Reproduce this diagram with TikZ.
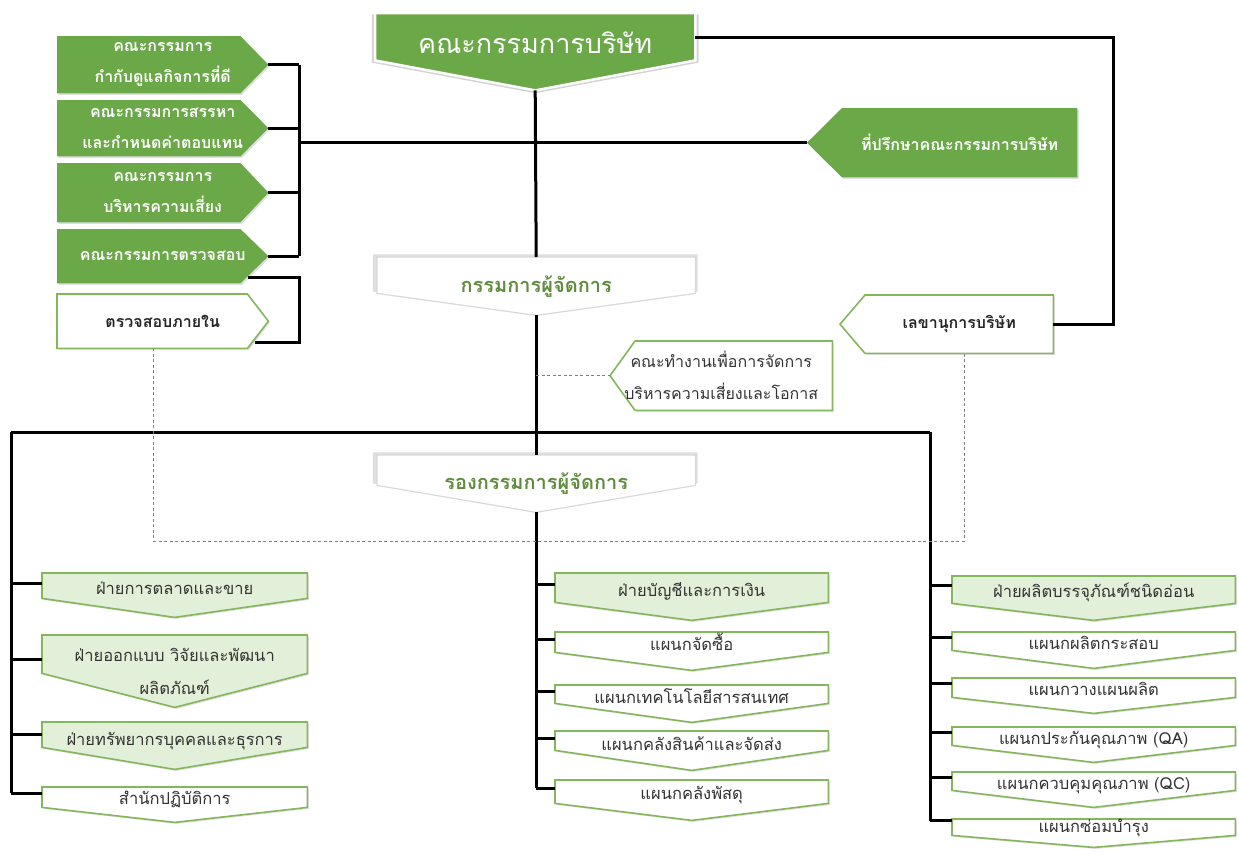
\documentclass[tikz,border=0pt]{standalone}
\usepackage{fontspec}
\setmainfont[Script=Thai]{Loma}
\usetikzlibrary{calc,backgrounds,shadows}

\definecolor{boardgreen}{RGB}{106,168,72}
\definecolor{palegreen}{RGB}{226,239,217}
\definecolor{edgegreen}{RGB}{132,182,92}
\definecolor{olivetext}{RGB}{96,140,62}

\tikzset{
  link/.style={line width=3pt},
  dotlink/.style={black!50, line width=1.3pt, dash pattern=on 3pt off 2.5pt},
  cell/.style={rectangle, inner sep=0pt, anchor=north west, align=center},
  comtext/.style={cell, text=white, font=\fontsize{16}{31}\selectfont\bfseries},
  mgrtext/.style={cell, text=olivetext, font=\fontsize{20}{24}\selectfont\bfseries},
  unittext/.style={cell, text=black!80, font=\fontsize{16.5}{33}\selectfont, text depth=13pt},
  softshadow/.style={drop shadow={opacity=0.25, shadow xshift=1.5pt, shadow yshift=-1.5pt}},
  greenshape/.style={fill=boardgreen, softshadow},
  whiteshape/.style={fill=white, draw=edgegreen, line width=1.6pt, softshadow},
  deptshape/.style={draw=edgegreen, line width=1.6pt, softshadow},
  mgrshape/.style={fill=white, draw=black!15, line width=1.2pt, drop shadow={opacity=0.25, shadow xshift=-1pt, shadow yshift=2pt, shadow scale=1.02}},
}

\begin{document}
\begin{tikzpicture}[x=1pt,y=-1pt]
  \useasboundingbox (0,0) rectangle (1239,854);

  % board, managing director, deputy
  \node[cell, text=white, font=\fontsize{27}{32}\selectfont, text height=20pt, text depth=16pt, minimum width=320, minimum height=77] (board) at (375,13) {คณะกรรมการบริษัท};
  \node[mgrtext, minimum width=318, minimum height=58] (md) at (377,257) {กรรมการผู้จัดการ};
  \node[mgrtext, minimum width=318, minimum height=57] (vp) at (377,455) {รองกรรมการผู้จัดการ};
  \begin{scope}[on background layer]
    \filldraw[fill=boardgreen, draw=white, line width=2.5pt, drop shadow={opacity=0.35, shadow xshift=0pt, shadow yshift=-2pt, shadow scale=1.02}]
      (board.north west) -- (board.north east) -- ($(board.south east)+(0,-30)$) -- (board.south) -- ($(board.south west)+(0,-30)$) -- cycle;
    \filldraw[mgrshape] (md.north west) -- (md.north east) -- ($(md.south east)+(0,-22)$) -- (md.south) -- ($(md.south west)+(0,-22)$) -- cycle;
    \filldraw[mgrshape] (vp.north west) -- (vp.north east) -- ($(vp.south east)+(0,-27)$) -- (vp.south) -- ($(vp.south west)+(0,-27)$) -- cycle;
  \end{scope}

  % committees on the left
  \foreach \nm/\yt/\yb/\txt in {gov/36/93/{คณะกรรมการ\\กำกับดูแลกิจการที่ดี},
      nom/100/156/{คณะกรรมการสรรหา\\และกำหนดค่าตอบแทน},
      risk/163/222/{คณะกรรมการ\\บริหารความเสี่ยง},
      aud/229/283/{คณะกรรมการตรวจสอบ}} {
    \node[comtext, minimum width=211, minimum height={(\yb-\yt)*1pt}] (\nm) at (57,\yt) {\txt};
    \scoped[on background layer] \fill[greenshape] (\nm.north west) -- ($(\nm.north east)+(-28,0)$) -- (\nm.east) -- ($(\nm.south east)+(-28,0)$) -- (\nm.south west) -- cycle;
  }
  \node[cell, text=black!85, font=\fontsize{16}{20}\selectfont\bfseries, minimum width=211, minimum height=54] (inaud) at (57,294) {ตรวจสอบภายใน};
  \scoped[on background layer] \filldraw[whiteshape] (inaud.north west) -- ($(inaud.north east)+(-21,0)$) -- (inaud.east) -- ($(inaud.south east)+(-21,0)$) -- (inaud.south west) -- cycle;

  % advisor, secretary, working group
  \node[comtext, minimum width=235, minimum height=69] (adv) at (842,108) {ที่ปรึกษาคณะกรรมการบริษัท};
  \node[cell, text=black!85, font=\fontsize{16}{20}\selectfont\bfseries, minimum width=188, minimum height=58] (sec) at (865,295) {เลขานุการบริษัท};
  \node[cell, text=black!80, font=\fontsize{16}{32}\selectfont, minimum width=222, minimum height=69] (wg) at (610,341) {คณะทำงานเพื่อการจัดการ\\บริหารความเสี่ยงและโอกาส};
  \begin{scope}[on background layer]
    \fill[greenshape] ($(adv.west)+(-35,0)$) -- (adv.north west) -- (adv.north east) -- (adv.south east) -- (adv.south west) -- cycle;
    \filldraw[whiteshape] ($(sec.west)+(-25,0)$) -- (sec.north west) -- (sec.north east) -- (sec.south east) -- (sec.south west) -- cycle;
    \filldraw[whiteshape] (wg.west) -- ($(wg.north west)+(25,0)$) -- (wg.north east) -- (wg.south east) -- ($(wg.south west)+(25,0)$) -- cycle;
  \end{scope}

  % trunks
  \coordinate (brk) at (299,0);
  \coordinate (rt) at (1113,0);
  \coordinate (lt) at (11,432);
  \coordinate (rb) at (930,432);

  % departments, left column
  \foreach \nm/\yt/\yb/\hgt/\dep/\clr/\txt in {mkt/573/617/12/19/palegreen/{ฝ่ายการตลาดและขาย},
      rnd/635/697/59/34/palegreen/{ฝ่ายออกแบบ วิจัยและพัฒนา\\ผลิตภัณฑ์},
      hr/722/769/12/22/palegreen/{ฝ่ายทรัพยากรบุคคลและธุรการ},
      ops/787/822/12/15/white/{สำนักปฏิบัติการ}} {
    \node[unittext, text height=\hgt pt, minimum width=265, minimum height={(\yb-\yt)*1pt}] (\nm) at (42,\yt) {\txt};
    \scoped[on background layer] \filldraw[deptshape, fill=\clr] (\nm.north west) -- (\nm.north east) -- ($(\nm.south east)+(0,-\dep)$) -- (\nm.south) -- ($(\nm.south west)+(0,-\dep)$) -- cycle;
    \draw[link] (lt |- \nm.175) -- (\nm.175);
  }
  % departments, middle column
  \foreach \nm/\yt/\yb/\dep/\clr/\txt in {acc/573/620/18/palegreen/{ฝ่ายบัญชีและการเงิน},
      pur/632/670/18/white/{แผนกจัดซื้อ},
      ict/685/722/19/white/{แผนกเทคโนโลยีสารสนเทศ},
      whs/731/770/20/white/{แผนกคลังสินค้าและจัดส่ง},
      sup/780/820/17/white/{แผนกคลังพัสดุ}} {
    \node[unittext, text height=12pt, minimum width=273, minimum height={(\yb-\yt)*1pt}] (\nm) at (555,\yt) {\txt};
    \scoped[on background layer] \filldraw[deptshape, fill=\clr] (\nm.north west) -- (\nm.north east) -- ($(\nm.south east)+(0,-\dep)$) -- (\nm.south) -- ($(\nm.south west)+(0,-\dep)$) -- cycle;
    \draw[link] (vp.south |- \nm.175) -- (\nm.175);
  }
  % departments, right column
  \foreach \nm/\yt/\yb/\dep/\clr/\txt in {pkg/576/620/17/palegreen/{ฝ่ายผลิตบรรจุภัณฑ์ชนิดอ่อน},
      sck/632/668/18/white/{แผนกผลิตกระสอบ},
      pln/678/713/16/white/{แผนกวางแผนผลิต},
      qa/727/762/17/white/{แผนกประกันคุณภาพ (QA)},
      qc/772/807/17/white/{แผนกควบคุมคุณภาพ (QC)},
      mnt/819/847/12/white/{แผนกซ่อมบำรุง}} {
    \node[unittext, text height=12pt, minimum width=283, minimum height={(\yb-\yt)*1pt}] (\nm) at (952,\yt) {\txt};
    \scoped[on background layer] \filldraw[deptshape, fill=\clr] (\nm.north west) -- (\nm.north east) -- ($(\nm.south east)+(0,-\dep)$) -- (\nm.south) -- ($(\nm.south west)+(0,-\dep)$) -- cycle;
    \draw[link] (rb |- \nm.175) -- (\nm.175);
  }

  % connectors at the top
  \foreach \nm in {gov,nom,risk,aud} {
    \draw[link] (brk |- \nm.east) -- (\nm.east);
  }
  \draw[link] (brk |- gov.east) -- (brk |- aud.east);
  \draw[link] (brk |- adv.west) -- ($(adv.west)+(-35,0)$);
  \draw[link] (board.south) -- (md.north);
  \draw[link] (board.5) -- (rt |- board.5) -- (rt |- sec.east) -- (sec.east);
  \draw[link] ($(aud.south east)+(-20,-6)$) -- ($(brk |- aud.south)+(0,-6)$) -- ($(brk |- inaud.south)+(0,-6)$) -- ($(inaud.south east)+(-13,-6)$);

  % connectors in the middle
  \draw[link] (md.south) -- (vp.north);
  \draw[link] (lt) -- (rb);
  \draw[link] (vp.south) -- (vp.south |- sup.175);
  \draw[link] (lt) -- (lt |- ops.175);
  \draw[link] (rb) -- (rb |- mnt.175);
  \draw[dotlink] (md.south |- wg.west) -- (wg.west);
  \draw[dotlink] ($(inaud.south)+(-9,0)$) |- ($(sec.south)+(5,188)$) -- ($(sec.south)+(5,0)$);
\end{tikzpicture}
\end{document}
